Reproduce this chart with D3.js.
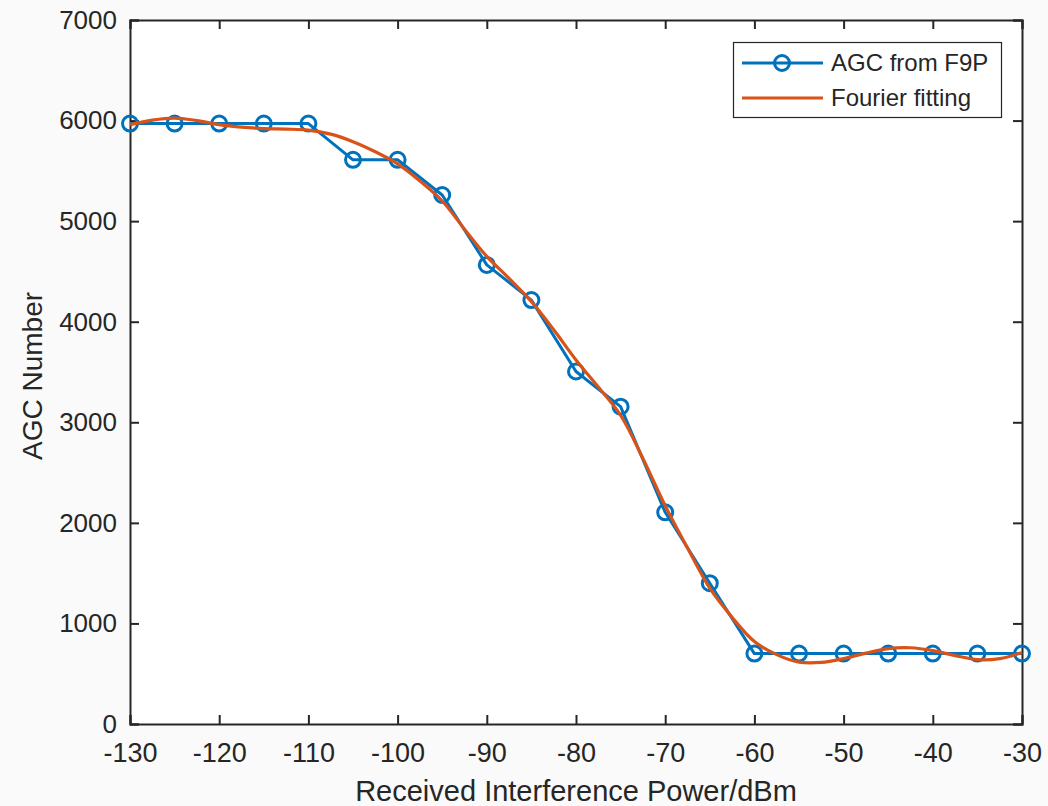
<!DOCTYPE html>
<html><head><meta charset="utf-8">
<script src="https://cdn.jsdelivr.net/npm/d3@7"></script>
<style>
html,body{margin:0;padding:0;background:#fafafa;}
svg{display:block;}
text{font-family:"Liberation Sans",Arial,Helvetica,sans-serif;fill:#262626;}
</style></head>
<body>
<svg id="c" width="1048" height="806"></svg>
<script>
const powerDbm = [-130,-125,-120,-115,-110,-105,-100,-95,-90,-85,-80,-75,-70,-65,-60,-55,-50,-45,-40,-35,-30];
const agcValues = [5970,5970,5970,5970,5970,5610,5610,5260,4565,4215,3505,3155,2105,1400,700,700,700,700,700,700,700];
const fitPower = [-130,-127.5,-125,-122.5,-120,-117.5,-115,-112.5,-110,-107.5,-105,-102.5,-100,-97.5,-95,-92.5,-90,-87.5,-85,-82.5,-80,-77.5,-75,-72.5,-70,-67.5,-65,-62.5,-60,-57.5,-55,-52.5,-50,-47.5,-45,-42.5,-40,-37.5,-35,-32.5,-30];
const fitValues = [5960,6005,6025,6000,5960,5935,5920,5915,5905,5865,5790,5690,5570,5400,5200,4920,4650,4430,4200,3920,3620,3350,3070,2640,2170,1750,1350,1060,820,690,615,612,650,705,750,758,730,680,640,650,710];
const xTicks = [-130,-120,-110,-100,-90,-80,-70,-60,-50,-40,-30];
const yTicks = [0,1000,2000,3000,4000,5000,6000,7000];
const seriesNames = ["AGC from F9P","Fourier fitting"];
const xTitle = "Received Interference Power/dBm";
const yTitle = "AGC Number";

const blue = "#0072BD", orange = "#D95319", axisCol = "#262626";
const L = 130, R = 1022, T = 20, B = 724;
const svg = d3.select("#c");
const x = d3.scaleLinear().domain([-130,-30]).range([L,R]);
const y = d3.scaleLinear().domain([0,7000]).range([B,T]);

svg.append("rect").attr("x",L).attr("y",T).attr("width",R-L).attr("height",B-T).attr("fill","#fff");

const tl = 9;
const fmt = d => String(d);
const gx = svg.append("g").attr("transform",`translate(0,${B})`)
  .call(d3.axisBottom(x).tickValues(xTicks).tickSize(-tl).tickPadding(19).tickFormat(fmt));
const gxt = svg.append("g").attr("transform",`translate(0,${T})`)
  .call(d3.axisTop(x).tickValues(xTicks).tickSize(-tl).tickFormat(""));
const gy = svg.append("g").attr("transform",`translate(${L},0)`)
  .call(d3.axisLeft(y).tickValues(yTicks).tickSize(-tl).tickPadding(13).tickFormat(fmt));
const gyr = svg.append("g").attr("transform",`translate(${R},0)`)
  .call(d3.axisRight(y).tickValues(yTicks).tickSize(-tl).tickFormat(""));
[gx,gxt,gy,gyr].forEach(g=>{
  g.select(".domain").attr("stroke",axisCol).attr("stroke-width",2);
  g.selectAll(".tick line").attr("stroke",axisCol).attr("stroke-width",2);
  g.selectAll(".tick text").attr("fill",axisCol).style("font-size","26px");
});
gx.selectAll(".tick text").style("font-size","27px");

// AGC series
svg.append("path").datum(powerDbm.map((p,i)=>[p,agcValues[i]]))
  .attr("fill","none").attr("stroke",blue).attr("stroke-width",3).attr("stroke-linejoin","round")
  .attr("d",d3.line().x(d=>x(d[0])).y(d=>y(d[1])));
svg.append("g").selectAll("circle").data(powerDbm.map((p,i)=>[p,agcValues[i]])).join("circle")
  .attr("cx",d=>x(d[0])).attr("cy",d=>y(d[1])).attr("r",7.5)
  .attr("fill","none").attr("stroke",blue).attr("stroke-width",3);

// Fourier fit
svg.append("path").datum(fitPower.map((p,i)=>[p,fitValues[i]]))
  .attr("fill","none").attr("stroke",orange).attr("stroke-width",3.2)
  .attr("d",d3.line().curve(d3.curveCatmullRom.alpha(0.5)).x(d=>x(d[0])).y(d=>y(d[1])));

// titles
svg.append("text").attr("x",(L+R)/2).attr("y",801).attr("text-anchor","middle").style("font-size","29px").text(xTitle);
svg.append("text").attr("transform","translate(42,376) rotate(-90)").attr("text-anchor","middle").style("font-size","28px").text(yTitle);

// legend
const lg = svg.append("g");
lg.append("rect").attr("x",733.5).attr("y",42.5).attr("width",268).attr("height",75).attr("fill","#fff").attr("stroke",axisCol).attr("stroke-width",1.2);
const rows = [63,98];
lg.append("line").attr("x1",742).attr("x2",823).attr("y1",rows[0]).attr("y2",rows[0]).attr("stroke",blue).attr("stroke-width",3);
lg.append("circle").attr("cx",782).attr("cy",rows[0]).attr("r",7.5).attr("fill","none").attr("stroke",blue).attr("stroke-width",3);
lg.append("line").attr("x1",742).attr("x2",823).attr("y1",rows[1]).attr("y2",rows[1]).attr("stroke",orange).attr("stroke-width",3);
seriesNames.forEach((n,i)=>{
  lg.append("text").attr("x",831).attr("y",rows[i]).attr("dy","0.35em").style("font-size","24px").text(n);
});
</script>
</body></html>
